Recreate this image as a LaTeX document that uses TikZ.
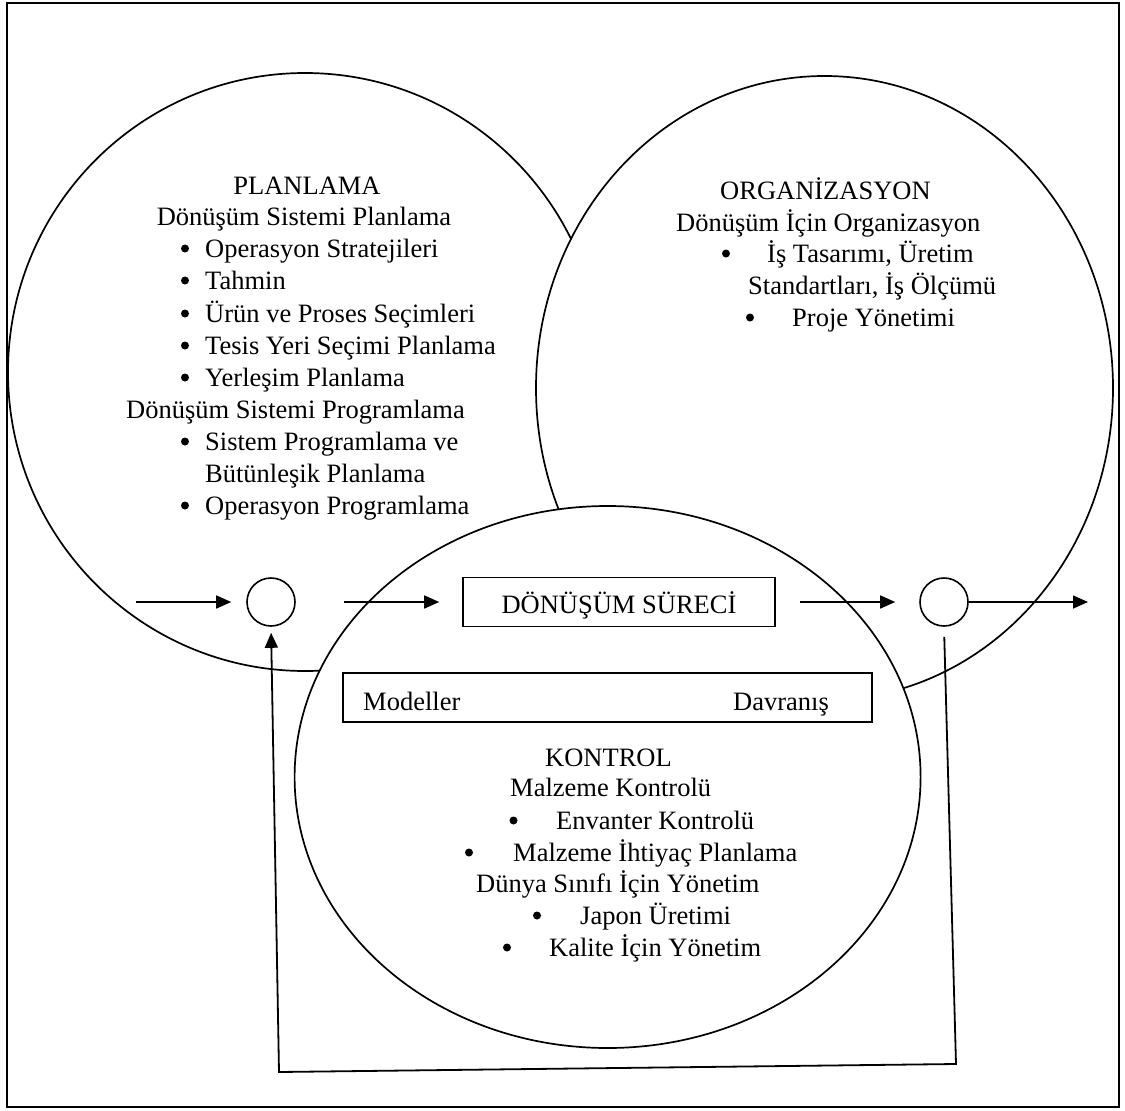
\documentclass[tikz,border=0pt]{standalone}
\usepackage{fontspec}
\setmainfont{Liberation Serif}
\usetikzlibrary{shapes.geometric,arrows.meta}
\begin{document}
\begin{tikzpicture}[x=1pt,y=-1pt,
  every node/.style={font=\fontsize{26.5pt}{32pt}\selectfont, inner sep=0pt},
  region/.style={ellipse, draw, fill=white, line width=1.7pt, inner sep=0pt},
  junction/.style={circle, draw, line width=1.6pt, minimum size=48pt, inner sep=0pt},
  procbox/.style={rectangle, draw, line width=1.6pt, inner sep=0pt},
  txt/.style={anchor=base west},
  ttl/.style={anchor=base},
  bul/.style={circle, fill=black, minimum size=8pt, inner sep=0pt, yshift=8.5pt},
  flow/.style={line width=1.6pt, -{Triangle[length=15pt,width=13pt]}},
  loopline/.style={line width=1.8pt, -{Triangle[length=15pt,width=13pt]}},
]
\useasboundingbox (0,0) rectangle (1125,1111);
% outer frame
\draw[line width=2.6pt] (7,3) rectangle (1119,1107);

% three overlapping regions
\node[region, minimum width=594pt, minimum height=598pt] (plan) at (305,372) {};
\node[region, minimum width=577pt, minimum height=624pt] (org) at (824.5,388) {};
\node[region, minimum width=626pt, minimum height=542pt] (ctrl) at (607.6,777) {};

% PLANLAMA
\node[ttl] (planT) at (307,194) {PLANLAMA};
\node[ttl] (planA) at (304,225) {Dönüşüm Sistemi Planlama};
\node[bul] (pb1) at (185,257) {};
\node[txt] (pa1) at (205,257) {Operasyon Stratejileri};
\node[bul] (pb2) at (185,289) {};
\node[txt] (pa2) at (205,289) {Tahmin};
\node[bul] (pb3) at (185,322) {};
\node[txt] (pa3) at (205,322) {Ürün ve Proses Seçimleri};
\node[bul] (pb4) at (185,354) {};
\node[txt] (pa4) at (205,354) {Tesis Yeri Seçimi Planlama};
\node[bul] (pb5) at (185,386) {};
\node[txt] (pa5) at (205,386) {Yerleşim Planlama};
\node[txt] (planB) at (126,418) {Dönüşüm Sistemi Programlama};
\node[bul] (pb6) at (185,450) {};
\node[txt] (pb6a) at (205,450) {Sistem Programlama ve};
\node[txt] (pb6b) at (205,482) {Bütünleşik Planlama};
\node[bul] (pb7) at (185,514) {};
\node[txt] (pb7a) at (205,514) {Operasyon Programlama};

% ORGANİZASYON
\node[txt] (orgT) at (720,199) {ORGANİZASYON};
\node[txt] (orgA) at (676,231) {Dönüşüm İçin Organizasyon};
\node[bul] (ob1) at (726,262) {};
\node[txt] (oa1) at (767,262) {İş Tasarımı, Üretim};
\node[txt] (oa1b) at (748,294) {Standartları, İş Ölçümü};
\node[bul] (ob2) at (750,326) {};
\node[txt] (oa2) at (792,326) {Proje Yönetimi};

% process row
\node[junction] (lc) at (271,602) {};
\node[junction] (rc) at (944,602) {};
\node[procbox, minimum width=312pt, minimum height=49pt, text height=23pt, text depth=0pt] (proc) at (619,602) {DÖNÜŞÜM SÜRECİ};
\node[procbox, minimum width=529pt, minimum height=49pt] (models) at (607.5,697.5) {};
\node[txt] (modL) at (363,710) {Modeller};
\node[txt] (modR) at (733,710) {Davranış};

% KONTROL
\node[txt] (ctrlT) at (545,766) {KONTROL};
\node[txt] (ctrlA) at (510,796) {Malzeme Kontrolü};
\node[bul] (cb1) at (513.5,829) {};
\node[txt] (ca1) at (556,829) {Envanter Kontrolü};
\node[bul] (cb2) at (469,861) {};
\node[txt] (ca2) at (513,861) {Malzeme İhtiyaç Planlama};
\node[txt] (ctrlB) at (476,892) {Dünya Sınıfı İçin Yönetim};
\node[bul] (cb3) at (537,924) {};
\node[txt] (cb3a) at (580,924) {Japon Üretimi};
\node[bul] (cb4) at (507,956) {};
\node[txt] (cb4a) at (549,956) {Kalite İçin Yönetim};

% connectors
\coordinate (inp) at (136,602);
\coordinate (outp) at (1088,602);
\coordinate (fbR) at (956,1064);
\coordinate (fbL) at (279,1072);

\draw[flow, shorten >=15pt] (inp) -- (lc);
\draw[flow, shorten <=48pt, shorten >=23pt] (lc) -- (proc);
\draw[flow, shorten <=24pt, shorten >=24pt] (proc) -- (rc);
\draw[flow] (rc) -- (outp);
\draw[loopline, shorten <=10pt, shorten >=6pt] (rc.south) -- (fbR) -- (fbL) -- (lc.south);
\end{tikzpicture}
\end{document}
